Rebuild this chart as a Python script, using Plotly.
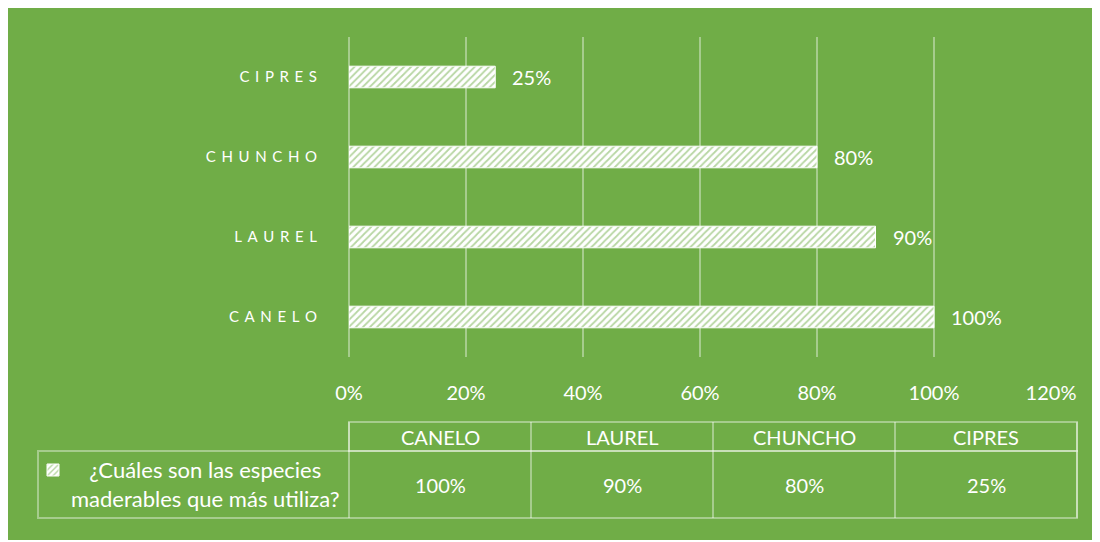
import plotly.graph_objects as go

categories = ["CANELO", "LAUREL", "CHUNCHO", "CIPRES"]
values = [100, 90, 80, 25]
series_name = "¿Cuáles son las especies<br>maderables que más utiliza?"
x_ticks = [0, 20, 40, 60, 80, 100, 120]

GREEN = "#70AD47"
LIGHT = "rgba(255,255,255,0.38)"
FONT = "Lato"

OFF = 8  # page body margin
W_FIG, H_FIG = 1093 - OFF, 540 - OFF
L, R, T, B = 349 - OFF, 1051 - OFF, 37 - OFF, 357 - OFF
PW, PH = R - L, B - T


def xp(px):
    """reference-image pixel x -> paper coordinate"""
    return (px - OFF - L) / PW


def yp(py):
    """reference-image pixel y -> paper coordinate"""
    return (B - (py - OFF)) / PH


spaced = ["\u2005\u2009".join(list(c)) for c in categories]

fig = go.Figure()
fig.add_trace(go.Bar(
    x=values, y=categories, orientation="h",
    width=0.27,
    name=" ",
    marker=dict(
        color="white",
        line=dict(color="white", width=1),
        pattern=dict(shape="/", fgcolor=GREEN, bgcolor="white", size=5, solidity=0.35),
    ),
    showlegend=True,
))

shapes = []
annotations = []
# value labels
for c, v in zip(categories, values):
    annotations.append(dict(x=v, y=c, xref="x", yref="y", text=f"{v}%",
                            showarrow=False, xanchor="left", xshift=15,
                            font=dict(family=FONT, size=20, color="white")))

# data table
tab_left, tab_right = 349, 1077
leg_left = 38
head_top, head_bot, row_bot = 422, 451, 518
n = len(categories)
colw = (tab_right - tab_left) / n
line_style = dict(color=LIGHT, width=2)

shapes.append(dict(type="rect", xref="paper", yref="paper",
                   x0=xp(tab_left), x1=xp(tab_right), y0=yp(head_bot), y1=yp(head_top),
                   line=line_style, fillcolor="rgba(0,0,0,0)"))
shapes.append(dict(type="rect", xref="paper", yref="paper",
                   x0=xp(leg_left), x1=xp(tab_right), y0=yp(row_bot), y1=yp(head_bot),
                   line=line_style, fillcolor="rgba(0,0,0,0)"))
for i in range(n + 1):
    xx = tab_left + i * colw
    shapes.append(dict(type="line", xref="paper", yref="paper",
                       x0=xp(xx), x1=xp(xx), y0=yp(row_bot), y1=yp(head_top),
                       line=line_style))
for i, (c, v) in enumerate(zip(categories, values)):
    cx = tab_left + (i + 0.5) * colw
    annotations.append(dict(x=xp(cx), y=yp((head_top + head_bot) / 2), xref="paper", yref="paper",
                            text=c, showarrow=False, xanchor="center", yanchor="middle",
                            font=dict(family=FONT, size=20, color="white")))
    annotations.append(dict(x=xp(cx), y=yp((head_bot + row_bot) / 2), xref="paper", yref="paper",
                            text=f"{v}%", showarrow=False, xanchor="center", yanchor="middle",
                            font=dict(family=FONT, size=20, color="white")))
annotations.append(dict(x=xp(205), y=yp((head_bot + row_bot) / 2 - 1), xref="paper", yref="paper",
                        text=series_name, showarrow=False, xanchor="center", yanchor="middle",
                        align="center",
                        font=dict(family=FONT, size=22, color="white")))

fig.update_layout(
    width=W_FIG, height=H_FIG,
    margin=dict(l=L, r=W_FIG - R, t=T, b=H_FIG - B, autoexpand=False),
    paper_bgcolor=GREEN,
    plot_bgcolor="rgba(0,0,0,0)",
    font=dict(family=FONT, color="white"),
    shapes=shapes,
    annotations=annotations,
    legend=dict(x=xp(33), y=yp(470), xanchor="left", yanchor="middle",
                bgcolor="rgba(0,0,0,0)", font=dict(size=12, color="white"),
                itemwidth=30),
    xaxis=dict(range=[0, 120], tickvals=x_ticks, ticktext=[f"{t}%" for t in x_ticks],
               showgrid=True, gridcolor=LIGHT, gridwidth=1.5,
               zeroline=True, zerolinecolor=LIGHT, zerolinewidth=1.5,
               showline=False, ticks="", ticklabelstandoff=22,
               tickfont=dict(family=FONT, size=20, color="white"), fixedrange=True),
    yaxis=dict(categoryorder="array", categoryarray=categories,
               tickvals=categories, ticktext=spaced,
               showgrid=False, zeroline=False, showline=False, ticks="",
               ticklabelstandoff=31,
               tickfont=dict(family=FONT, size=15, color="white"), fixedrange=True),
)

fig.write_html("out.html")
